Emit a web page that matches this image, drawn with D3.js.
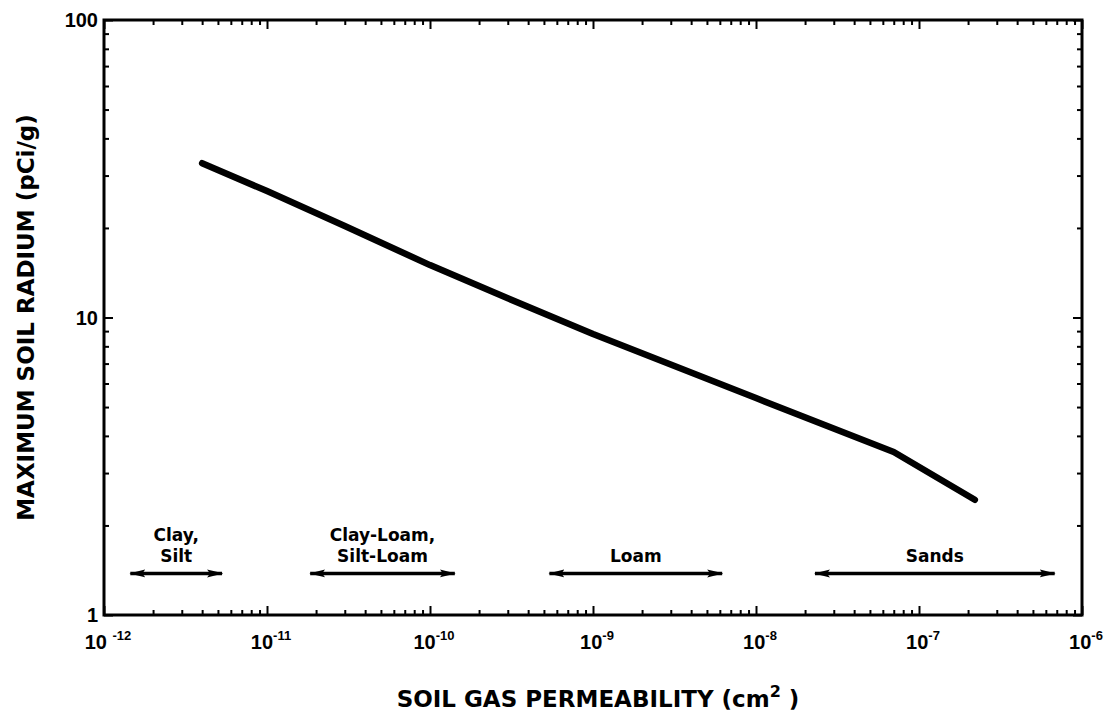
<!DOCTYPE html>
<html>
<head>
<meta charset="utf-8">
<script src="https://cdn.jsdelivr.net/npm/d3@7"></script>
<style>
  body { margin: 0; background: #fff; }
</style>
</head>
<body>
<svg class="chart" width="1110" height="716"></svg>
<script>
// values
const permeability = [4e-12, 1e-11, 3e-11, 1e-10, 3e-10, 1e-9, 1e-8, 7e-8, 2.2e-7];
const soilRadius = [33, 26.6, 20.3, 15.0, 11.6, 8.8, 5.36, 3.53, 2.44];

const xTickValues = [1e-12, 1e-11, 1e-10, 1e-9, 1e-8, 1e-7, 1e-6];
const xTickExps = ['-12', '-11', '-10', '-9', '-8', '-7', '-6'];
const yTickValues = [1, 10, 100];
const yTickLabels = ['1', '10', '100'];

const soilNames = [['Clay,', 'Silt'], ['Clay-Loam,', 'Silt-Loam'], ['Loam'], ['Sands']];
const soilFrom = [1.45e-12, 1.84e-11, 5.4e-10, 2.3e-8];
const soilTo = [5.3e-12, 1.42e-10, 6.2e-9, 6.8e-7];
const soilArrowLevel = 1.38;

const tickFont = "'Liberation Sans', Arial, sans-serif";
const labelFont = "'DejaVu Sans', Verdana, sans-serif";

const svg = d3.select('.chart');
const margin = { top: 20, right: 28, bottom: 101, left: 104 };
const width = +svg.attr('width');
const height = +svg.attr('height');
const innerWidth = width - margin.left - margin.right;
const innerHeight = height - margin.top - margin.bottom;

const xScale = d3.scaleLog().domain([1e-12, 1e-6]).range([0, innerWidth]);
const yScale = d3.scaleLog().domain([1, 100]).range([innerHeight, 0]);

const g = svg.append('g')
    .attr('transform', `translate(${margin.left}, ${margin.top})`);

// minor ticks on all four sides, pointing inward
const xMinor = xScale.ticks().filter(v => !xTickValues.some(t => Math.abs(t - v) / t < 1e-6));
const yMinor = yScale.ticks().filter(v => !yTickValues.includes(v));

function styleAxis(sel) {
    sel.select('.domain').remove();
    sel.selectAll('line').attr('stroke', '#000').attr('stroke-width', 2);
    sel.selectAll('text').remove();
}

g.append('g').attr('transform', `translate(0, ${innerHeight})`)
    .call(d3.axisBottom(xScale).tickValues(xMinor).tickSize(-5)).call(styleAxis);
g.append('g').attr('transform', `translate(0, ${innerHeight})`)
    .call(d3.axisBottom(xScale).tickValues(xTickValues).tickSize(-9)).call(styleAxis);
g.append('g')
    .call(d3.axisTop(xScale).tickValues(xMinor).tickSize(-5)).call(styleAxis);
g.append('g')
    .call(d3.axisTop(xScale).tickValues(xTickValues).tickSize(-9)).call(styleAxis);
g.append('g')
    .call(d3.axisLeft(yScale).tickValues(yMinor).tickSize(-5)).call(styleAxis);
g.append('g')
    .call(d3.axisLeft(yScale).tickValues(yTickValues).tickSize(-9)).call(styleAxis);
g.append('g').attr('transform', `translate(${innerWidth}, 0)`)
    .call(d3.axisRight(yScale).tickValues(yMinor).tickSize(-5)).call(styleAxis);
g.append('g').attr('transform', `translate(${innerWidth}, 0)`)
    .call(d3.axisRight(yScale).tickValues(yTickValues).tickSize(-9)).call(styleAxis);

// frame
g.append('rect')
    .attr('width', innerWidth)
    .attr('height', innerHeight)
    .attr('fill', 'none')
    .attr('stroke', '#000')
    .attr('stroke-width', 3);

// y tick labels
g.append('g')
    .selectAll('text')
    .data(yTickValues)
    .join('text')
    .attr('x', -6)
    .attr('y', d => yScale(d))
    .attr('dy', '0.36em')
    .attr('text-anchor', 'end')
    .attr('font-family', tickFont)
    .attr('font-weight', 'bold')
    .attr('font-size', 20)
    .text((d, i) => yTickLabels[i]);

// x tick labels, 10 with superscript exponent
const xLabels = g.append('g')
    .selectAll('text')
    .data(xTickValues)
    .join('text')
    .attr('x', d => xScale(d) + 4)
    .attr('y', innerHeight + 34)
    .attr('text-anchor', 'middle')
    .attr('font-family', tickFont)
    .attr('font-weight', 'bold')
    .attr('font-size', 20);
xLabels.append('tspan').text((d, i) => i === 0 ? '10 ' : '10');
xLabels.append('tspan')
    .attr('dy', -9)
    .attr('font-size', 13)
    .text((d, i) => xTickExps[i]);

// the curve
const line = d3.line()
    .x(d => xScale(d[0]))
    .y(d => yScale(d[1]));

g.append('path')
    .datum(permeability.map((p, i) => [p, soilRadius[i]]))
    .attr('d', line)
    .attr('fill', 'none')
    .attr('stroke', '#000')
    .attr('stroke-width', 6.5)
    .attr('stroke-linecap', 'round')
    .attr('stroke-linejoin', 'round');

// soil class ranges with double arrows
const defs = svg.append('defs');
defs.append('marker')
    .attr('id', 'arrowEnd')
    .attr('viewBox', '0 0 16 10')
    .attr('refX', 15)
    .attr('refY', 5)
    .attr('markerWidth', 16)
    .attr('markerHeight', 10)
    .attr('markerUnits', 'userSpaceOnUse')
    .attr('orient', 'auto')
    .append('path')
    .attr('d', 'M0,1 L16,5 L0,9 L3,5 Z')
    .attr('fill', '#000');
defs.append('marker')
    .attr('id', 'arrowStart')
    .attr('viewBox', '0 0 16 10')
    .attr('refX', 1)
    .attr('refY', 5)
    .attr('markerWidth', 16)
    .attr('markerHeight', 10)
    .attr('markerUnits', 'userSpaceOnUse')
    .attr('orient', 'auto')
    .append('path')
    .attr('d', 'M16,1 L0,5 L16,9 L13,5 Z')
    .attr('fill', '#000');

const soil = g.append('g')
    .selectAll('g')
    .data(soilNames)
    .join('g');

soil.append('line')
    .attr('x1', (d, i) => xScale(soilFrom[i]))
    .attr('x2', (d, i) => xScale(soilTo[i]))
    .attr('y1', yScale(soilArrowLevel))
    .attr('y2', yScale(soilArrowLevel))
    .attr('stroke', '#000')
    .attr('stroke-width', 3.5)
    .attr('marker-start', 'url(#arrowStart)')
    .attr('marker-end', 'url(#arrowEnd)');

soil.each(function(names, i) {
    const cx = (xScale(soilFrom[i]) + xScale(soilTo[i])) / 2;
    const base = yScale(soilArrowLevel) - 11;
    d3.select(this).selectAll('text')
        .data(names)
        .join('text')
        .attr('x', cx)
        .attr('y', (d, j) => base - (names.length - 1 - j) * 21)
        .attr('text-anchor', 'middle')
        .attr('font-family', labelFont)
        .attr('font-weight', 'bold')
        .attr('font-size', 17)
        .text(d => d);
});

// axis titles
const xTitle = svg.append('text')
    .attr('x', 598)
    .attr('y', 707)
    .attr('text-anchor', 'middle')
    .attr('font-family', labelFont)
    .attr('font-weight', 'bold')
    .attr('font-size', 23);
xTitle.append('tspan').text('SOIL GAS PERMEABILITY (cm');
xTitle.append('tspan').attr('dy', -10).attr('font-size', 16).text('2');
xTitle.append('tspan').attr('dy', 10).text(' )');

svg.append('text')
    .attr('transform', `translate(34, ${margin.top + innerHeight / 2}) rotate(-90)`)
    .attr('text-anchor', 'middle')
    .attr('font-family', labelFont)
    .attr('font-weight', 'bold')
    .attr('font-size', 23)
    .text('MAXIMUM SOIL RADIUM (pCi/g)');
</script>
</body>
</html>
